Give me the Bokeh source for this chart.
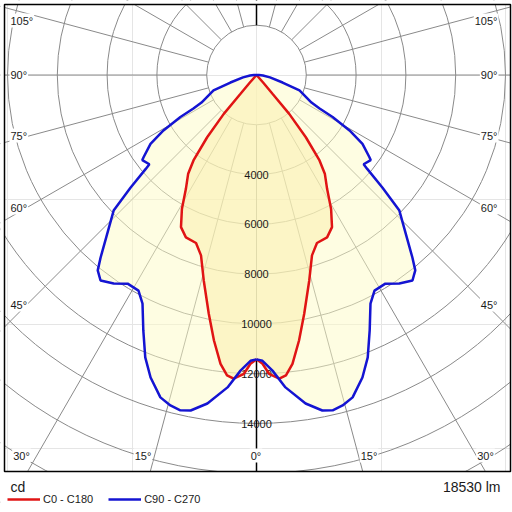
import numpy as np
from bokeh.plotting import figure
from bokeh.models import Range1d, Label, Legend, LegendItem
from bokeh.core.properties import value
from bokeh.embed import file_html
from bokeh.resources import INLINE

# ---------------- data ----------------
# C90 - C270 plane (blue), gamma in degrees from nadir, intensity in cd
gamma_c90 = [0, 1.2, 3.1, 5.3, 8.5, 11.1, 12.8, 14.6, 16.6, 19.3, 21.5, 23.9, 26.5,
             28.7, 31.7, 34.4, 37.2, 39.1, 40.5, 42.9, 46.5, 48.2, 49.7, 50.2, 53.3,
             54.0, 57.0, 59.2, 61.1, 62.0, 63.4, 70.2, 73.9, 80, 85, 90, 95, 180]
cd_c90 = [11420, 11480, 11890, 12600, 13340, 13730, 13810, 13715, 13510, 12870, 12190,
          11220, 10260, 9870, 9850, 10150, 10360, 10110, 9640, 8850, 7910, 6780, 5830,
          5600, 5720, 5600, 5075, 4350, 3490, 2870, 2470, 1835, 1090, 550, 260, 100, 0, 0]

# C0 - C180 plane (red)
gamma_c0 = [0, 1.2, 2.4, 4.3, 5.6, 7.1, 9.1, 11.3, 14.4, 17.1, 19.8, 23.5, 26.4,
            29.1, 31.8, 34.7, 36.4, 38.4, 40.1, 40.4, 41.5, 44, 180]
cd_c0 = [11420, 11600, 12010, 12230, 12120, 11690, 10800, 9780, 8520, 7580, 7170, 7110,
         6820, 6160, 5380, 4820, 4265, 3190, 2040, 990, 400, 0, 0]

ring_values = [2000, 4000, 6000, 8000, 10000, 12000, 14000, 16000, 18000, 20000]
ring_labels = ["4000", "6000", "8000", "10000", "12000", "14000"]
ring_label_values = [4000, 6000, 8000, 10000, 12000, 14000]
radial_step_deg = 15

left_angle_labels = ["105°", "90°", "75°", "60°", "45°"]
right_angle_labels = ["105°", "90°", "75°", "60°", "45°"]
bottom_angle_labels = ["30°", "15°", "0°", "15°", "30°"]

series_names = ["C0 - C180", "C90 - C270"]
unit_text = "cd"
flux_text = "18530 lm"

# ---------------- layout helpers (screen px -> data) ----------------
PX = 1000.0 / 24.9          # cd per pixel
CX, CY = 256.0, 74.5        # pole position on the page
W, H = 512, 510


def sx(px):
    return (px - CX) * PX


def sy(py):
    return (CY - py) * PX


FONT = value("Liberation Sans")
TXT = "#1a1a1a"

p = figure(frame_width=W, frame_height=H,
           min_border_left=0, min_border_right=0, min_border_top=0, min_border_bottom=0,
           x_range=Range1d(sx(0), sx(W)), y_range=Range1d(sy(H), sy(0)),
           output_backend="svg", toolbar_location=None,
           x_axis_location=None, y_axis_location=None)
p.outline_line_color = None
p.background_fill_color = "white"
p.border_fill_color = "white"


def polygon(gammas, cds):
    g = np.radians(np.asarray(gammas, dtype=float))
    i = np.asarray(cds, dtype=float)
    xr = i * np.sin(g)
    yr = -i * np.cos(g)
    xs = np.concatenate([xr, -xr[::-1]])
    ys = np.concatenate([yr, yr[::-1]])
    return xs, ys


xb, yb = polygon(gamma_c90, cd_c90)
xr_, yr_ = polygon(gamma_c0, cd_c0)

# ---------------- grid ----------------
GRID = "#8a8a8a"
n = len(ring_values)
p.circle(x=[0] * n, y=[0] * n, radius=ring_values, fill_color=None,
         line_color=GRID, line_width=1)
ang = np.radians(np.arange(0, 360, radial_step_deg))
r0 = ring_values[0]
r1 = ring_values[-1] * 2
p.segment(x0=r0 * np.sin(ang), y0=-r0 * np.cos(ang), x1=r1 * np.sin(ang), y1=-r1 * np.cos(ang),
          line_color=GRID, line_width=1)

# ---------------- fills ----------------
p.patch(xb, yb, fill_color="#FDFBC5", fill_alpha=0.5, line_color=None)
p.patch(xr_, yr_, fill_color="#F9EFAE", fill_alpha=0.55, line_color=None)

# black parts of the vertical axis
bottom_start = max(cd_c0[0], cd_c90[0])
p.segment(x0=[0, 0], y0=[r0, -bottom_start], x1=[0, 0], y1=[r1, -r1],
          line_color="black", line_width=1.5)

# ring labels
p.text(x=[0] * len(ring_label_values), y=[-v for v in ring_label_values], text=ring_labels,
       text_align="center", text_baseline="middle", text_font=FONT,
       text_font_size="11px", text_color=TXT)

# ---------------- curves ----------------
red = p.line(xr_, yr_, line_color="#E01414", line_width=2.5)
blue = p.line(xb, yb, line_color="#1414D2", line_width=2.5)

# ---------------- mask outside the diagram box + box ----------------
BL, BR, BT, BB = 4, 510, 4, 471
p.quad(left=[sx(0), sx(0), sx(BR), sx(0)],
       right=[sx(BL), sx(W), sx(W), sx(W)],
       top=[sy(0), sy(0), sy(0), sy(BB)],
       bottom=[sy(H), sy(BT), sy(H), sy(H)],
       fill_color="white", line_color=None)
p.quad(left=[sx(BL)], right=[sx(BR)], top=[sy(BT)], bottom=[sy(BB)],
       fill_color=None, line_color="black", line_width=1.5)

# ---------------- angle labels ----------------
left_y = [20, 74, 135, 207, 304]
for t, yy in zip(left_angle_labels, left_y):
    p.add_layout(Label(x=sx(9), y=sy(yy), text=t, text_align="left", text_baseline="middle",
                       text_font="Liberation Sans", text_font_size="11px", text_color=TXT,
                       background_fill_color="white", padding=1))
for t, yy in zip(right_angle_labels, left_y):
    p.add_layout(Label(x=sx(498), y=sy(yy), text=t, text_align="right", text_baseline="middle",
                       text_font="Liberation Sans", text_font_size="11px", text_color=TXT,
                       background_fill_color="white", padding=1))
bottom_x = [21, 142.5, 255.5, 368.5, 485]
for t, xx in zip(bottom_angle_labels, bottom_x):
    p.add_layout(Label(x=sx(xx), y=sy(455), text=t, text_align="center", text_baseline="middle",
                       text_font="Liberation Sans", text_font_size="11px", text_color=TXT,
                       background_fill_color="white", padding=1))

# ---------------- footer ----------------
p.add_layout(Label(x=sx(10), y=sy(486), text=unit_text, text_align="left", text_baseline="middle",
                   text_font="Liberation Sans", text_font_size="14px", text_color=TXT))
p.add_layout(Label(x=sx(500), y=sy(486), text=flux_text, text_align="right", text_baseline="middle",
                   text_font="Liberation Sans", text_font_size="14px", text_color=TXT))

legend = Legend(items=[LegendItem(label=series_names[0], renderers=[red]),
                       LegendItem(label=series_names[1], renderers=[blue])],
                location=(7, H - 505), orientation="horizontal",
                padding=0, margin=0, spacing=15, glyph_width=33, glyph_height=12,
                label_height=12, label_standoff=3, label_text_font_size="11px",
                label_text_font="Liberation Sans", label_text_color=TXT,
                border_line_alpha=0, background_fill_alpha=0)
p.add_layout(legend)

open("out.html", "w").write(file_html(p, INLINE))
